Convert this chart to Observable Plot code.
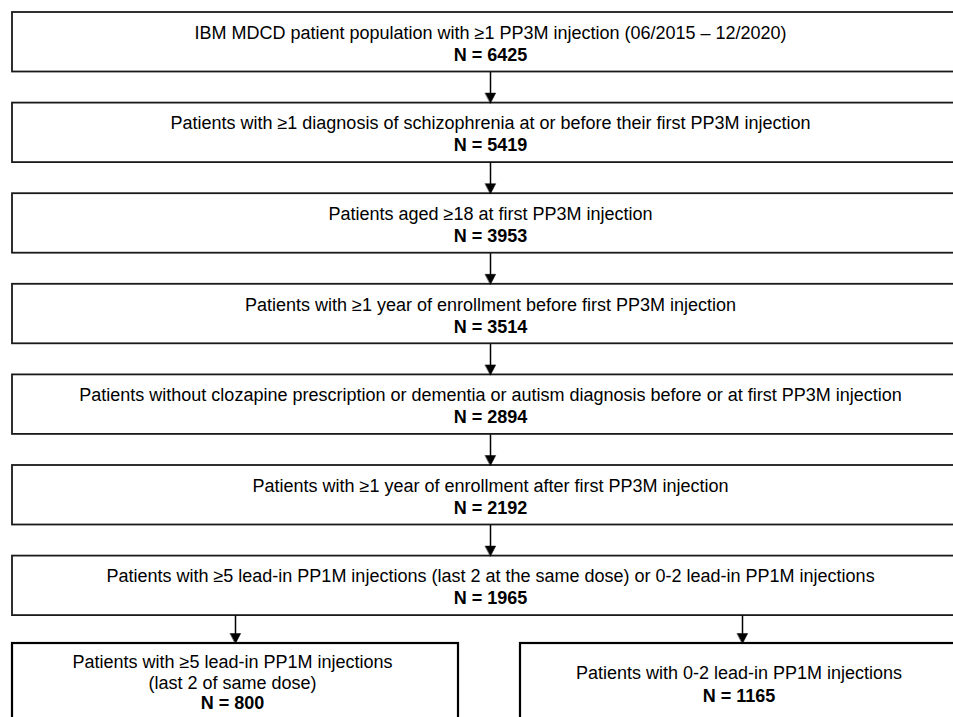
<!DOCTYPE html>
<html>
<head>
<meta charset="utf-8">
<script src="https://cdn.jsdelivr.net/npm/d3@7"></script>
<script src="https://cdn.jsdelivr.net/npm/@observablehq/plot@0.6"></script>
<style>
  html, body { margin: 0; padding: 0; background: #fff; overflow: hidden; }
  #chart svg { display: block; }
</style>
</head>
<body>
<div id="chart"></div>
<script>
// ---- data ----
const stepLabels = [
  "IBM MDCD patient population with ≥1 PP3M injection (06/2015 – 12/2020)",
  "Patients with ≥1 diagnosis of schizophrenia at or before their first PP3M injection",
  "Patients aged ≥18 at first PP3M injection",
  "Patients with ≥1 year of enrollment before first PP3M injection",
  "Patients without clozapine prescription or dementia or autism diagnosis before or at first PP3M injection",
  "Patients with ≥1 year of enrollment after first PP3M injection",
  "Patients with ≥5 lead-in PP1M injections (last 2 at the same dose) or 0-2 lead-in PP1M injections"
];
const stepCounts = [6425, 5419, 3953, 3514, 2894, 2192, 1965];
const branchLabels = [
  "Patients with ≥5 lead-in PP1M injections\n(last 2 of same dose)",
  "Patients with 0-2 lead-in PP1M injections"
];
const branchCounts = [800, 1165];

// ---- layout ----
const W = 953, H = 717;
const top0 = 12, stepGap = 90.6, boxH = 59.5;
const mainX1 = 12, mainX2 = 968, mainCx = 490;
const branchTop = 643, branchBottom = 780;
const branchX = [[12, 458], [520, 964]];
const branchTextCx = [232, 738.5];
const branchTextStart = [18.5, 30];
const branchTextGap = [20.8, 23];
const font = "'Liberation Sans', Arial, sans-serif";
const fs = 18;

const boxes = stepLabels.map((label, i) => ({
  x1: mainX1, x2: mainX2, y1: top0 + i * stepGap, y2: top0 + i * stepGap + boxH
}));
const branchBoxes = branchLabels.map((label, i) => ({
  x1: branchX[i][0], x2: branchX[i][1], y1: branchTop, y2: branchBottom
}));

// text lines
const texts = [];
stepLabels.forEach((label, i) => {
  const t = top0 + i * stepGap;
  texts.push({x: mainCx, y: t + 20.5, text: label, bold: false});
  texts.push({x: mainCx, y: t + 42.5, text: "N = " + stepCounts[i], bold: true});
});
branchLabels.forEach((label, i) => {
  const lines = label.split("\n").map(s => ({s, bold: false}))
    .concat([{s: "N = " + branchCounts[i], bold: true}]);
  lines.forEach((l, j) => texts.push({
    x: branchTextCx[i],
    y: branchTop + branchTextStart[i] + j * branchTextGap[i],
    text: l.s, bold: l.bold
  }));
});

// arrows
const arrows = [];
for (let i = 0; i < boxes.length - 1; i++) {
  arrows.push({x: mainCx, y1: boxes[i].y2, y2: boxes[i + 1].y1});
}
branchBoxes.forEach(b => arrows.push({x: (b.x1 + b.x2) / 2, y1: boxes[boxes.length - 1].y2, y2: b.y1}));
const headL = 10, headW = 5.2;
const heads = [];
arrows.forEach((a, k) => {
  heads.push({k, x: a.x - headW, y: a.y2 - headL});
  heads.push({k, x: a.x + headW, y: a.y2 - headL});
  heads.push({k, x: a.x, y: a.y2});
});

const chart = Plot.plot({
  width: W,
  height: H,
  margin: 0,
  x: {domain: [0, W], axis: null},
  y: {domain: [H, 0], axis: null},
  marks: [
    Plot.rect(boxes, {x1: "x1", x2: "x2", y1: "y1", y2: "y2", fill: "white", stroke: "#1a1a1a", strokeWidth: 1.8, clip: true}),
    Plot.rect(branchBoxes, {x1: "x1", x2: "x2", y1: "y1", y2: "y2", fill: "white", stroke: "#000", strokeWidth: 2.2, clip: true}),
    Plot.link(arrows, {x1: "x", x2: "x", y1: "y1", y2: d => d.y2 - headL + 1, stroke: "#000", strokeWidth: 1.5}),
    Plot.line(heads, {x: "x", y: "y", z: "k", fill: "#000", stroke: "#000", strokeWidth: 0.5, curve: "linear-closed"}),
    Plot.text(texts.filter(d => !d.bold), {x: "x", y: "y", text: "text", fontFamily: font, fontSize: fs, fill: "#000", lineAnchor: "middle"}),
    Plot.text(texts.filter(d => d.bold), {x: "x", y: "y", text: "text", fontFamily: font, fontSize: fs, fontWeight: "bold", fill: "#000", lineAnchor: "middle"})
  ]
});
document.getElementById("chart").appendChild(chart);
</script>
</body>
</html>
